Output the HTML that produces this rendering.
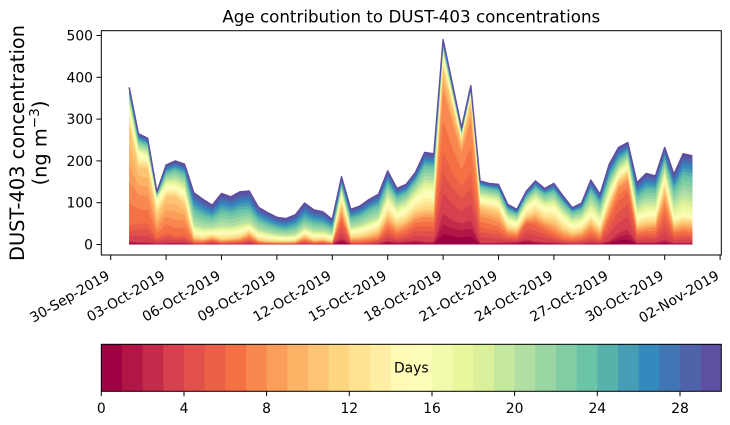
<!DOCTYPE html>
<html><head><meta charset="utf-8">
<style>
html,body{margin:0;padding:0;background:#fff;}
svg{display:block;font-family:"DejaVu Sans","Liberation Sans",sans-serif;}
</style></head>
<body>
<svg id="s" width="730" height="425" viewBox="0 0 730 425" xmlns="http://www.w3.org/2000/svg">
<rect width="730" height="425" fill="#fff"/>
<g id="areas"></g>
<polyline id="topline" fill="none" stroke="#5e4fa2" stroke-width="1.5" stroke-linejoin="round" points=""/>
<rect x="101.3" y="30.7" width="620" height="224.3" fill="none" stroke="#000" stroke-width="1"/>
<text x="411.3" y="22.4" font-size="16.7" text-anchor="middle" fill="#000">Age contribution to DUST-403 concentrations</text>
<g stroke="#000" stroke-width="1">
<line x1="96.4" x2="101.3" y1="244.5" y2="244.5"/>
<line x1="96.4" x2="101.3" y1="202.7" y2="202.7"/>
<line x1="96.4" x2="101.3" y1="160.9" y2="160.9"/>
<line x1="96.4" x2="101.3" y1="119.1" y2="119.1"/>
<line x1="96.4" x2="101.3" y1="77.3" y2="77.3"/>
<line x1="96.4" x2="101.3" y1="35.5" y2="35.5"/>
</g>
<g font-size="13.9" text-anchor="end" fill="#000">
<text x="93" y="249.5">0</text>
<text x="93" y="207.7">100</text>
<text x="93" y="165.9">200</text>
<text x="93" y="124.1">300</text>
<text x="93" y="82.3">400</text>
<text x="93" y="40.5">500</text>
</g>
<text font-size="19.4" text-anchor="middle" fill="#000" transform="translate(24.2,143) rotate(-90)">DUST-403 concentration</text>
<text font-size="19.4" text-anchor="middle" fill="#000" transform="translate(46.5,143) rotate(-90)">(ng m<tspan font-size="13.6" dy="-7.5">−3</tspan><tspan dy="7.5">)</tspan></text>
<g stroke="#000" stroke-width="1">
<line y1="255" y2="259.9" x1="110.7" x2="110.7"/>
<line y1="255" y2="259.9" x1="166.1" x2="166.1"/>
<line y1="255" y2="259.9" x1="221.5" x2="221.5"/>
<line y1="255" y2="259.9" x1="276.9" x2="276.9"/>
<line y1="255" y2="259.9" x1="332.3" x2="332.3"/>
<line y1="255" y2="259.9" x1="387.7" x2="387.7"/>
<line y1="255" y2="259.9" x1="443.1" x2="443.1"/>
<line y1="255" y2="259.9" x1="498.5" x2="498.5"/>
<line y1="255" y2="259.9" x1="553.9" x2="553.9"/>
<line y1="255" y2="259.9" x1="609.3" x2="609.3"/>
<line y1="255" y2="259.9" x1="664.7" x2="664.7"/>
<line y1="255" y2="259.9" x1="720.1" x2="720.1"/>
</g>
<g font-size="13.9" text-anchor="end" fill="#000">
<text transform="translate(110.7,278.3) rotate(-30)">30-Sep-2019</text>
<text transform="translate(166.1,278.3) rotate(-30)">03-Oct-2019</text>
<text transform="translate(221.5,278.3) rotate(-30)">06-Oct-2019</text>
<text transform="translate(276.9,278.3) rotate(-30)">09-Oct-2019</text>
<text transform="translate(332.3,278.3) rotate(-30)">12-Oct-2019</text>
<text transform="translate(387.7,278.3) rotate(-30)">15-Oct-2019</text>
<text transform="translate(443.1,278.3) rotate(-30)">18-Oct-2019</text>
<text transform="translate(498.5,278.3) rotate(-30)">21-Oct-2019</text>
<text transform="translate(553.9,278.3) rotate(-30)">24-Oct-2019</text>
<text transform="translate(609.3,278.3) rotate(-30)">27-Oct-2019</text>
<text transform="translate(664.7,278.3) rotate(-30)">30-Oct-2019</text>
<text transform="translate(720.1,278.3) rotate(-30)">02-Nov-2019</text>
</g>
<g id="cbar"></g>
<rect x="101.3" y="344.3" width="620" height="47" fill="none" stroke="#000" stroke-width="1"/>
<text x="411.3" y="372.5" font-size="13.9" text-anchor="middle" fill="#000">Days</text>
<g stroke="#000" stroke-width="1">
<line y1="391.3" y2="396.2" x1="101.3" x2="101.3"/>
<line y1="391.3" y2="396.2" x1="184" x2="184"/>
<line y1="391.3" y2="396.2" x1="266.6" x2="266.6"/>
<line y1="391.3" y2="396.2" x1="349.3" x2="349.3"/>
<line y1="391.3" y2="396.2" x1="432" x2="432"/>
<line y1="391.3" y2="396.2" x1="514.6" x2="514.6"/>
<line y1="391.3" y2="396.2" x1="597.3" x2="597.3"/>
<line y1="391.3" y2="396.2" x1="680" x2="680"/>
</g>
<g font-size="13.9" text-anchor="middle" fill="#000">
<text x="101.3" y="413">0</text>
<text x="184" y="413">4</text>
<text x="266.6" y="413">8</text>
<text x="349.3" y="413">12</text>
<text x="432" y="413">16</text>
<text x="514.6" y="413">20</text>
<text x="597.3" y="413">24</text>
<text x="680" y="413">28</text>
</g>
</svg>
<script>
var T=[376,265,254,126,190,200,192,124,108,94,122,114,126,128,89,76,65,62,71,99,83,78,60,162,84,92,108,120,176,134,144,172,220,217,490,385,279,380,152,146,144,96,84,127,152,134,146,116,88,99,154,120,192,232,244,148,170,164,232,168,217,212];
var F=[
[0.02,0.12,0.4,0.75,0.88,0.96],[0.02,0.19,0.45,0.7,0.83,0.94],[0.02,0.2,0.45,0.72,0.83,0.94],[0.02,0.12,0.3,0.55,0.85,0.95],
[0.02,0.15,0.35,0.6,0.74,0.9],[0.02,0.1,0.3,0.58,0.7,0.9],[0.02,0.12,0.3,0.5,0.66,0.88],[0.01,0.04,0.08,0.13,0.27,0.68],
[0.01,0.04,0.08,0.12,0.25,0.66],[0.02,0.1,0.14,0.2,0.32,0.68],[0.01,0.03,0.06,0.1,0.25,0.66],[0.01,0.05,0.08,0.12,0.26,0.66],
[0.01,0.05,0.09,0.13,0.27,0.66],[0.02,0.1,0.16,0.22,0.32,0.66],[0.01,0.04,0.08,0.12,0.28,0.66],[0.01,0.03,0.06,0.1,0.26,0.64],
[0.01,0.03,0.06,0.1,0.26,0.62],[0.01,0.03,0.06,0.1,0.25,0.6],[0.01,0.03,0.06,0.1,0.24,0.6],[0.02,0.08,0.14,0.2,0.32,0.62],
[0.01,0.04,0.08,0.12,0.28,0.63],[0.02,0.06,0.1,0.15,0.3,0.64],[0.01,0.03,0.06,0.1,0.3,0.66],[0.1,0.35,0.45,0.58,0.75,0.88],
[0.01,0.06,0.12,0.2,0.38,0.74],[0.01,0.06,0.12,0.2,0.4,0.75],[0.01,0.07,0.13,0.22,0.4,0.77],[0.02,0.1,0.16,0.27,0.44,0.78],
[0.05,0.2,0.3,0.4,0.58,0.83],[0.04,0.15,0.25,0.36,0.56,0.84],[0.05,0.2,0.3,0.4,0.6,0.86],[0.06,0.25,0.35,0.45,0.65,0.88],
[0.03,0.2,0.3,0.38,0.58,0.86],[0.03,0.2,0.3,0.38,0.58,0.86],[0.15,0.45,0.75,0.86,0.92,0.97],[0.15,0.45,0.75,0.86,0.92,0.97],
[0.18,0.5,0.78,0.88,0.92,0.96],[0.15,0.45,0.78,0.9,0.94,0.97],[0.03,0.28,0.45,0.6,0.72,0.92],[0.03,0.25,0.42,0.58,0.72,0.92],
[0.03,0.22,0.38,0.55,0.7,0.9],[0.06,0.2,0.3,0.4,0.6,0.87],[0.07,0.2,0.3,0.4,0.6,0.87],[0.1,0.4,0.45,0.52,0.7,0.9],
[0.05,0.3,0.4,0.5,0.7,0.9],[0.04,0.25,0.35,0.45,0.66,0.9],[0.03,0.15,0.25,0.38,0.62,0.88],[0.02,0.1,0.2,0.32,0.56,0.86],
[0.02,0.1,0.2,0.3,0.53,0.88],[0.02,0.12,0.22,0.32,0.53,0.86],[0.03,0.15,0.25,0.35,0.5,0.84],[0.02,0.1,0.18,0.28,0.45,0.82],
[0.05,0.3,0.4,0.5,0.62,0.84],[0.12,0.45,0.58,0.65,0.73,0.87],[0.15,0.5,0.62,0.7,0.78,0.9],[0.03,0.15,0.22,0.3,0.45,0.78],
[0.03,0.15,0.22,0.3,0.45,0.78],[0.03,0.15,0.25,0.32,0.47,0.8],[0.05,0.3,0.45,0.57,0.7,0.87],[0.02,0.13,0.2,0.27,0.38,0.78],
[0.02,0.12,0.18,0.25,0.35,0.77],[0.02,0.11,0.17,0.24,0.33,0.76]];
var A=[[158,1,66],[213,62,79],[244,109,67],[253,174,97],[254,224,139],[255,255,191],[230,245,152],[171,221,164],[102,194,165],[50,136,189],[94,79,162]];
function cm(t){var p=t*10,i=Math.min(9,Math.floor(p)),f=p-i,a=A[i],b=A[i+1];
return 'rgb('+Math.round(a[0]+(b[0]-a[0])*f)+','+Math.round(a[1]+(b[1]-a[1])*f)+','+Math.round(a[2]+(b[2]-a[2])*f)+')';}
var keys=[0,3,6,8,11,16,20,24,30];
function wgt(i){return ((i>=7&&i<=22)||(i>=24&&i<=27))?0.3:0.45;}
function cum(i,age){var f=F[i],c20=f[4]+wgt(i)*(f[5]-f[4]),c=[0,f[0],f[1],f[2],f[3],f[4],c20,f[5],1];
for(var j=0;j<8;j++){if(age<=keys[j+1]){return T[i]*(c[j]+(c[j+1]-c[j])*(age-keys[j])/(keys[j+1]-keys[j]));}}return T[i];}
function X(i){return 129.17+9.233*i;}
function Y(v){return 244.5-v*0.418;}
var ns='http://www.w3.org/2000/svg',g=document.getElementById('areas'),n=T.length;
for(var k=29;k>=0;k--){var pts=[],i;
for(i=0;i<n;i++)pts.push(X(i).toFixed(2)+','+Y(cum(i,k+1)).toFixed(2));
pts.push(X(n-1).toFixed(2)+',244.5');pts.push(X(0).toFixed(2)+',244.5');
var p=document.createElementNS(ns,'polygon');p.setAttribute('points',pts.join(' '));
p.setAttribute('fill',cm(k/29));g.appendChild(p);}
var tp=[];for(var i=0;i<n;i++)tp.push(X(i).toFixed(2)+','+Y(T[i]).toFixed(2));
document.getElementById('topline').setAttribute('points',tp.join(' '));
var cb=document.getElementById('cbar');
for(var k=0;k<30;k++){var r=document.createElementNS(ns,'rect');
r.setAttribute('x',(101.3+k*20.667).toFixed(2));r.setAttribute('y','344.3');
r.setAttribute('width',k==29?'20.7':'21.2');r.setAttribute('height','47');r.setAttribute('fill',cm(k/29));cb.appendChild(r);}
</script>
</body></html>
